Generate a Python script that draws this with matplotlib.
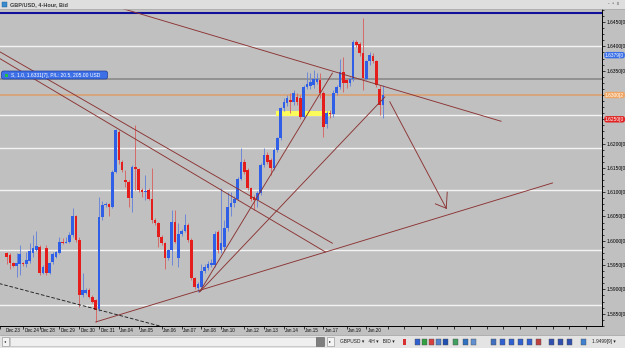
import matplotlib
matplotlib.use("Agg")
import matplotlib.pyplot as plt
from matplotlib.patches import Rectangle, FancyBboxPatch
from matplotlib.transforms import blended_transform_factory
from matplotlib.ticker import MultipleLocator
import numpy as np

plt.rcParams['font.family'] = ['Liberation Sans', 'DejaVu Sans']

# GBP/USD 4-hour bars, bar 0 = first visible bar at the left edge
opens = [1.5975, 1.5971, 1.5955, 1.5949, 1.5952, 1.5954, 1.5953, 1.5959, 1.5974, 1.5982,
         1.5988, 1.5934, 1.5985, 1.5934, 1.5957, 1.5967, 1.5975, 1.5998, 1.5996, 1.5998,
         1.6012, 1.6050, 1.6001, 1.5888, 1.5893, 1.5899, 1.5885, 1.5878, 1.5859, 1.6048,
         1.6074, 1.6075, 1.6070, 1.6142, 1.6224, 1.6163, 1.6126, 1.6122, 1.6089, 1.6152,
         1.6147, 1.6104, 1.6101, 1.6104, 1.6087, 1.6043, 1.6036, 1.6008, 1.5995, 1.5964,
         1.5981, 1.6039, 1.5964, 1.6014, 1.6021, 1.6032, 1.6001, 1.5923, 1.5902, 1.5905,
         1.5938, 1.5945, 1.5950, 1.5950, 1.6019, 1.5981, 1.5988, 1.6026, 1.6070, 1.6077,
         1.6087, 1.6128, 1.6163, 1.6146, 1.6108, 1.6091, 1.6084, 1.6098, 1.6156, 1.6177,
         1.6166, 1.6149, 1.6187, 1.6211, 1.6273, 1.6283, 1.6290, 1.6286, 1.6295, 1.6293,
         1.6255, 1.6316, 1.6318, 1.6321, 1.6326, 1.6330, 1.6304, 1.6240, 1.6262, 1.6260,
         1.6305, 1.6316, 1.6348, 1.6330, 1.6325, 1.6332, 1.6410, 1.6404, 1.6386, 1.6333,
         1.6369, 1.6380, 1.6369, 1.6313, 1.6279]
highs = [1.5977, 1.5974, 1.5957, 1.5974, 1.5991, 1.5957, 1.5977, 1.5995, 1.6012, 1.6021,
         1.5991, 1.5950, 1.5991, 1.5957, 1.5977, 1.5980, 1.6008, 1.6005, 1.6008, 1.6019,
         1.6067, 1.6053, 1.6008, 1.5933, 1.5902, 1.5902, 1.5888, 1.5881, 1.6091, 1.6081,
         1.6079, 1.6078, 1.6145, 1.6231, 1.6229, 1.6166, 1.6146, 1.6126, 1.6156, 1.6238,
         1.6149, 1.6108, 1.6135, 1.6108, 1.6149, 1.6046, 1.6039, 1.6012, 1.5998, 1.5984,
         1.6063, 1.6063, 1.6036, 1.6025, 1.6056, 1.6036, 1.6005, 1.5926, 1.5916, 1.5953,
         1.5953, 1.5958, 1.5962, 1.6020, 1.6022, 1.6108, 1.6043, 1.6100, 1.6100, 1.6092,
         1.6131, 1.6190, 1.6168, 1.6150, 1.6110, 1.6095, 1.6102, 1.6160, 1.6190, 1.6183,
         1.6170, 1.6190, 1.6214, 1.6276, 1.6293, 1.6300, 1.6305, 1.6310, 1.6305, 1.6300,
         1.6320, 1.6348, 1.6345, 1.6352, 1.6345, 1.6345, 1.6308, 1.6268, 1.6270, 1.6310,
         1.6320, 1.6375, 1.6379, 1.6335, 1.6338, 1.6413, 1.6414, 1.6410, 1.6458, 1.6372,
         1.6388, 1.6386, 1.6372, 1.6320, 1.6320]
lows = [1.5953, 1.5943, 1.5947, 1.5926, 1.5929, 1.5948, 1.5947, 1.5955, 1.5967, 1.5979,
        1.5929, 1.5931, 1.5930, 1.5931, 1.5953, 1.5964, 1.5972, 1.5994, 1.5995, 1.5996,
        1.6008, 1.5998, 1.5864, 1.5885, 1.5890, 1.5882, 1.5871, 1.5833, 1.5856, 1.6043,
        1.6070, 1.6050, 1.6068, 1.6139, 1.6159, 1.6142, 1.6111, 1.6070, 1.6060, 1.6104,
        1.6101, 1.6091, 1.6084, 1.6084, 1.6036, 1.6033, 1.5988, 1.5991, 1.5943, 1.5960,
        1.5950, 1.5995, 1.5947, 1.6010, 1.6018, 1.5998, 1.5919, 1.5900, 1.5895, 1.5899,
        1.5934, 1.5940, 1.5946, 1.5946, 1.5974, 1.5975, 1.5981, 1.6020, 1.6050, 1.6070,
        1.6084, 1.6125, 1.6138, 1.6104, 1.6082, 1.6064, 1.6070, 1.6094, 1.6152, 1.6158,
        1.6135, 1.6145, 1.6183, 1.6207, 1.6268, 1.6278, 1.6262, 1.6280, 1.6280, 1.6250,
        1.6250, 1.6312, 1.6312, 1.6314, 1.6322, 1.6293, 1.6214, 1.6232, 1.6252, 1.6255,
        1.6300, 1.6312, 1.6307, 1.6315, 1.6318, 1.6328, 1.6398, 1.6380, 1.6310, 1.6330,
        1.6362, 1.6365, 1.6316, 1.6259, 1.6252]
closes = [1.5967, 1.5955, 1.5949, 1.5955, 1.5973, 1.5952, 1.5960, 1.5979, 1.5986, 1.5989,
          1.5934, 1.5947, 1.5934, 1.5955, 1.5973, 1.5977, 1.5998, 1.5996, 1.5998, 1.6012,
          1.6050, 1.6001, 1.5888, 1.5899, 1.5899, 1.5885, 1.5875, 1.5857, 1.6048, 1.6074,
          1.6075, 1.6069, 1.6142, 1.6228, 1.6166, 1.6146, 1.6122, 1.6089, 1.6152, 1.6147,
          1.6104, 1.6101, 1.6103, 1.6087, 1.6043, 1.6036, 1.6008, 1.5995, 1.5964, 1.5981,
          1.6039, 1.5998, 1.6015, 1.6021, 1.6032, 1.6001, 1.5923, 1.5905, 1.5911, 1.5938,
          1.5947, 1.5952, 1.5955, 1.6015, 1.5981, 1.5995, 1.6026, 1.6070, 1.6078, 1.6087,
          1.6128, 1.6163, 1.6142, 1.6108, 1.6087, 1.6084, 1.6098, 1.6156, 1.6177, 1.6163,
          1.6149, 1.6187, 1.6211, 1.6273, 1.6286, 1.6293, 1.6285, 1.6304, 1.6286, 1.6255,
          1.6317, 1.6323, 1.6326, 1.6332, 1.6333, 1.6304, 1.6235, 1.6262, 1.6260, 1.6305,
          1.6316, 1.6348, 1.6325, 1.6325, 1.6333, 1.6410, 1.6403, 1.6386, 1.6334, 1.6369,
          1.6383, 1.6370, 1.6320, 1.6279, 1.6299]

# bottom axis: date labels and the bar each one starts at
date_labels = ['Dec.23', 'Dec.24', 'Dec.28', 'Dec.29', 'Dec.30', 'Dec.31', 'Jan.04', 'Jan.05',
               'Jan.06', 'Jan.07', 'Jan.08', 'Jan.10', 'Jan.12', 'Jan.13', 'Jan.14', 'Jan.15',
               'Jan.17', 'Jan.19', 'Jan.20']
date_bars = [-2, 5, 10, 16, 22, 28, 34, 40, 47, 53, 59, 65, 72, 78, 84, 90, 96, 103, 109]
future_ticks = [115.5, 120.5, 125.5, 130.5, 135.5, 140.5, 145.5, 150.5, 155.5, 160.5,
                165.5, 170.5, 175.5]

# right axis (1.6300 and 1.6250 sit under the coloured price boxes)
price_ticks = [1.5850, 1.5900, 1.5950, 1.6000, 1.6050, 1.6100, 1.6150, 1.6200, 1.6250,
               1.6300, 1.6350, 1.6400, 1.6450]
price_labels = ['1.5850[0', '1.5900[0', '1.5950[0', '1.6000[0', '1.6050[0', '1.6100[0',
                '1.6150[0', '1.6200[0', '', '', '1.6350[0', '1.6400[0', '1.6450[0']

# horizontal levels
white_levels = [1.6400, 1.6258, 1.6191, 1.6104, 1.5981, 1.5868]
order_level = 1.6333
orange_level = 1.6300
blue_level = 1.6469
yellow_zone = (81.6, 98.1, 1.6257, 1.6267)

# trendlines (bar0, bar1), (price0, price1)
trend_bars = [(26.6, 149.8), (-10, 96.6), (-10, 98.7), (27, 165.4), (58.5, 98.7), (58.5, 114.6)]
trend_prices = [(1.6495, 1.6246), (1.6407, 1.5977), (1.6420, 1.5995), (1.5833, 1.6119),
                (1.5895, 1.6345), (1.5895, 1.6296)]
dashed_bars = (-10, 54)
dashed_prices = (1.5926, 1.5811)
arrow_bars = (116.1, 133.2)
arrow_prices = (1.6286, 1.6067)
head_bars = [129.9, 133.5]
head_prices = [1.6076, 1.6100]

# price boxes on the axis
box_prices = [1.6382, 1.6300, 1.6250]
box_texts = ['1.6379[0', '1.6300[2', '1.6250[0']
box_colors = ['#3a6ee6', '#f0a662', '#e02424']

bg = '#c0c0c0'
line_col = '#8b3232'

fig = plt.figure(figsize=(6.25, 3.48), dpi=100, facecolor=bg)
ax = fig.add_axes([0, 22 / 348, 602 / 625, 317 / 348], facecolor=bg)

k = 0.005 / 24.3
ax.set_ylim(1.6300 - 231 * k, 1.6300 + 86 * k)
ax.set_xlim(-1.3 / 3.33, (602 - 1.3) / 3.33)

for lv in white_levels:
    ax.axhline(lv, color='#f4f4f4', lw=1.0, zorder=1)
ax.axhline(order_level, color='#8e8e8e', lw=1.3, zorder=1)
ax.axhline(orange_level, color='#dca070', lw=1.2, zorder=1)
ax.axhline(blue_level, color='#10109a', lw=1.5, zorder=1)
yz = yellow_zone
ax.add_patch(Rectangle((yz[0], yz[2]), yz[1] - yz[0], yz[3] - yz[2], fc='#fbfb5a',
                       ec='none', zorder=1.5))

o = np.array(opens)
h = np.array(highs)
l = np.array(lows)
c = np.array(closes)
x = np.arange(len(o))
up = c >= o
body_col = np.where(up, '#2f5fe6', '#e41c1c')
wick_col = np.where(up, '#6d88d8', '#d56a6a')
ax.vlines(x, l, h, colors=wick_col, lw=0.7, zorder=3)
ax.bar(x, np.maximum(np.abs(c - o), 0.00012), bottom=np.minimum(o, c), width=0.8,
       color=body_col, zorder=3.2)

for (b0, b1), (p0, p1) in zip(trend_bars, trend_prices):
    ax.plot([b0, b1], [p0, p1], color=line_col, lw=0.65, zorder=4)
ax.plot(dashed_bars, dashed_prices, color='#202020', lw=0.65, ls=(0, (4, 2)), zorder=4)
ax.plot(arrow_bars, arrow_prices, color=line_col, lw=0.65, zorder=4)
for hb, hp in zip(head_bars, head_prices):
    ax.plot([arrow_bars[1], hb], [arrow_prices[1], hp], color=line_col, lw=0.65, zorder=4)

# axes styling
for s in ['top', 'left']:
    ax.spines[s].set_visible(False)
for s in ['right', 'bottom']:
    ax.spines[s].set_color('black')
    ax.spines[s].set_linewidth(0.7)
ax.yaxis.tick_right()
ax.set_yticks(price_ticks)
ax.set_yticklabels(price_labels)
ax.yaxis.set_minor_locator(MultipleLocator(0.00125))
ax.tick_params(axis='y', which='major', direction='out', length=2.0, width=0.5, pad=1.0,
               labelsize=3.5, colors='black')
ax.tick_params(axis='y', which='minor', direction='out', length=1.2, width=0.5)
ax.set_xticks(date_bars + future_ticks)
ax.tick_params(axis='x', direction='out', length=2.0, width=0.5, labelbottom=False)

tr = blended_transform_factory(ax.transData, ax.transAxes)
for lab, b in zip(date_labels, date_bars):
    ax.text(max(b + 0.4, -0.39), -2.0 / 317, lab, transform=tr, ha='left', va='top',
            fontsize=3.3, color='#101010', clip_on=False)

tr_y = blended_transform_factory(ax.transAxes, ax.transData)
for p, t, col in zip(box_prices, box_texts, box_colors):
    ax.text(1 + 3 / 602, p, t, transform=tr_y, ha='left', va='center', fontsize=3.5,
            color='white', zorder=6, clip_on=False,
            bbox=dict(boxstyle='round,pad=0.15,rounding_size=0.5', fc=col, ec='none'))

# window chrome in pixel units
ov = fig.add_axes([0, 0, 1, 1])
ov.set_xlim(0, 625)
ov.set_ylim(348, 0)
ov.axis('off')
ov.patch.set_alpha(0)

ov.add_patch(Rectangle((0, 0), 625, 9, fc='#dedede', ec='none'))
ov.plot([0, 625], [9, 9], color='#a9a9a9', lw=0.5)
ov.add_patch(Rectangle((1.5, 1.5), 5, 5, fc='#3a8ad0', ec='#206090', lw=0.3))
ov.text(10, 4.6, 'GBP/USD, 4-Hour, Bid', fontsize=4.0, fontweight='bold', color='#3c3c3c',
        va='center', ha='left')
ov.text(614, 3.5, '-  \u25ab  x', fontsize=3.4, color='#505050', va='center', ha='center')

ov.add_patch(FancyBboxPatch((1.5, 71), 106, 8, boxstyle='round,pad=0,rounding_size=2',
                            fc='#3d6fe6', ec='#1c3c9c', lw=0.5))
ov.add_patch(Rectangle((4.5, 73.5), 3, 3, fc='#22c040', ec='none'))
ov.text(11, 75.2, 'S, 1.0, 1.6331[7], P/L: 20.5, 205.00 USD', fontsize=3.6, color='white',
        va='center', ha='left')

# bottom scrollbar and toolbar
ov.add_patch(Rectangle((0, 335), 625, 13, fc='#e4e4e4', ec='none'))
ov.plot([0, 625], [335, 335], color='#9a9a9a', lw=0.5)
ov.add_patch(Rectangle((1.5, 337), 7, 9, fc='#f4f4f4', ec='#8a8a8a', lw=0.4))
ov.text(5, 341.5, '\u25c2', fontsize=3, color='#303030', ha='center', va='center')
ov.add_patch(Rectangle((9.5, 337), 306, 9, fc='#efefef', ec='#b0b0b0', lw=0.4))
ov.add_patch(Rectangle((316, 337), 8, 9, fc='#7e7e7e', ec='#5a5a5a', lw=0.4))
ov.add_patch(Rectangle((327, 337), 7, 9, fc='#f4f4f4', ec='#8a8a8a', lw=0.4))
ov.text(330.5, 341.5, '\u25b8', fontsize=3, color='#303030', ha='center', va='center')
ov.text(340, 341.5, 'GBPUSD \u25be   4H \u25be   BID \u25be', fontsize=3.5, color='#202020',
        va='center', ha='left')
ov.add_patch(Rectangle((403, 338.5), 3, 6, fc='#d83030', ec='none'))
icon_x = [415, 422, 429, 436, 443, 453, 463, 471, 491, 500, 509, 518, 527, 536, 549, 558, 567, 581]
icon_c = ['#3060d0', '#30a040', '#d84040', '#5080d0', '#2050b0', '#40a060', '#3070c0',
          '#6090d0', '#4070c0', '#3060d0', '#3060d0', '#3060d0', '#3060d0', '#c04040',
          '#3050b0', '#3050b0', '#3050b0', '#4080d0']
for ix, icol in zip(icon_x, icon_c):
    ov.add_patch(Rectangle((ix, 339), 4.5, 5.5, fc=icol, ec='#505050', lw=0.3))
ov.text(592, 341.5, '1.9499[9] \u25be', fontsize=3.4, color='#202020', va='center', ha='left')

fig.savefig('out.png', dpi=100, facecolor=bg)
